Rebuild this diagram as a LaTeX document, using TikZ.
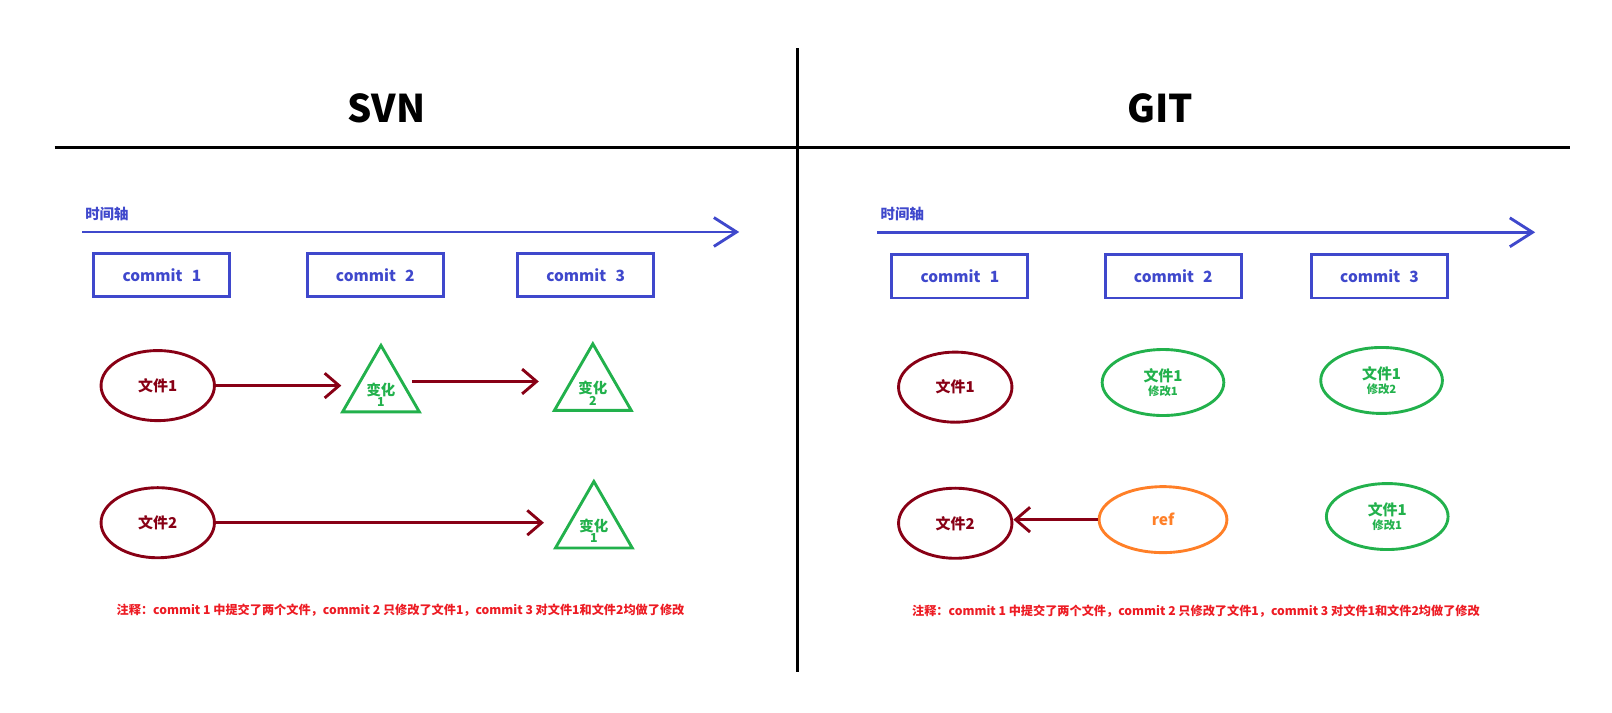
\documentclass[tikz,border=0pt]{standalone}
\usepackage{fontspec}
\setmainfont{Noto Sans CJK SC}
\usetikzlibrary{arrows.meta,shapes.geometric,calc}
\definecolor{pblue}{HTML}{3F48CC}
\definecolor{maroon}{HTML}{880015}
\definecolor{pgreen}{HTML}{22B14C}
\definecolor{porange}{HTML}{FF7F27}
\definecolor{pred}{HTML}{ED1C24}
\newcommand{\fs}[1]{\fontsize{#1}{#1}\selectfont}
\begin{document}
\begin{tikzpicture}[x=1pt,y=-1pt,
  lw/.style={line width=2.8pt},
  divider/.style={lw, black},
  axis/.style={lw, pblue, -{Straight Barb[length=22pt,width=28pt]}},
  conn/.style={lw, maroon, -{Straight Barb[length=14pt,width=24pt]}},
  title/.style={font=\bfseries\fs{37}, inner sep=0},
  axislabel/.style={font=\bfseries\fs{14}, text=pblue, inner sep=0, anchor=west},
  commitbox/.style={draw=pblue, lw, minimum width=132pt, minimum height=42pt, text=pblue, font=\bfseries\fs{15}, inner sep=0},
  fileA/.style={ellipse, draw=maroon, lw, minimum width=110pt, minimum height=68pt, text=maroon, font=\bfseries\fs{14.5}, inner sep=0},
  fileB/.style={ellipse, draw=pgreen, lw, minimum width=118pt, minimum height=64pt, text=pgreen, font=\bfseries, align=center, inner sep=0},
  refnode/.style={ellipse, draw=porange, lw, minimum width=124pt, minimum height=64pt, text=porange, font=\bfseries\fs{15}, inner sep=0},
  tri/.style={regular polygon, regular polygon sides=3, draw=pgreen, lw, minimum size=86pt, inner sep=0},
  trilabel/.style={text=pgreen, font=\bfseries\fs{14}, align=center, inner sep=0},
  note/.style={text=pred, font=\bfseries\fs{11.8}, inner sep=0}
]
\useasboundingbox (0,0) rectangle (1563.5,690.6);
% dividers
\coordinate (vt) at (773.5,47);
\coordinate (vb) at (773.5,652);
\coordinate (hl) at (53,143);
\coordinate (hr) at (1523,143);
\draw[divider] (vt) -- (vb);
\draw[divider] (hl) -- (hr);
% titles
\node[title] (svn) at (374.5,105.5) {SVN};
\node[title] (git) at (1125,105.5) {GIT};
% time axes
\coordinate (ax1s) at (80,225);
\coordinate (ax1e) at (717,225);
\coordinate (ax2s) at (851,225.3);
\coordinate (ax2e) at (1489,225.3);
\draw[axis] (ax1s) -- (ax1e);
\draw[axis] (ax2s) -- (ax2e);
\node[axislabel] (tl1) at (82.5,208) {时间轴};
\node[axislabel] (tl2) at (854,208) {时间轴};
% commits
\node[commitbox] (c1) at (157,267) {commit\hspace{9pt}1};
\node[commitbox] (c2) at (364,267) {commit\hspace{9pt}2};
\node[commitbox] (c3) at (568,267) {commit\hspace{9pt}3};
\node[commitbox] (d1) at (931,268) {commit\hspace{9pt}1};
\node[commitbox] (d2) at (1138,268) {commit\hspace{9pt}2};
\node[commitbox] (d3) at (1338,268) {commit\hspace{9pt}3};
% SVN files
\node[fileA] (f1) at (153,374) {文件1};
\node[fileA] (f2) at (153,507) {文件2};
\node[tri] (t1) at (369.5,378) {};
\node[tri] (t2) at (575,376.5) {};
\node[tri] (t3) at (576,510) {};
\node[trilabel] (t1l) at ($(t1)+(0,5)$) {变化\\[-3pt]{\fs{12}1}};
\node[trilabel] (t2l) at ($(t2)+(0,5)$) {变化\\[-3pt]{\fs{12}2}};
\node[trilabel] (t3l) at ($(t3)+(0,5)$) {变化\\[-3pt]{\fs{12}1}};
\draw[conn, shorten >=12pt] (f1.east) -- (f1.east -| t1.west);
\draw[conn, shorten <=4pt, shorten >=26pt] ($(t1.east)+(0,-8)$) -- ($(t2.west)+(0,-6.5)$);
\draw[conn, shorten >=22pt] (f2.east) -- (f2.east -| t3.west);
% GIT files
\node[fileA] (g1) at (926.5,375.5) {文件1};
\node[fileB] (g2) at (1128,371) {{\fs{14.5}文件1}\\[1pt]{\fs{11}修改1}};
\node[fileB] (g3) at (1340,369) {{\fs{14.5}文件1}\\[1pt]{\fs{11}修改2}};
\node[fileA] (g4) at (926.5,507.5) {文件2};
\node[refnode] (ref) at (1128,504) {ref};
\node[fileB] (g6) at (1345.5,501) {{\fs{14.5}文件1}\\[1pt]{\fs{11}修改1}};
\draw[conn] (ref.west) -- (ref.west -| g4.east);
% notes
\node[note] (n1) at (388.5,592) {注释：commit 1 中提交了两个文件，commit 2 只修改了文件1，commit 3 对文件1和文件2均做了修改};
\node[note] (n2) at (1160,593) {注释：commit 1 中提交了两个文件，commit 2 只修改了文件1，commit 3 对文件1和文件2均做了修改};
\end{tikzpicture}
\end{document}
